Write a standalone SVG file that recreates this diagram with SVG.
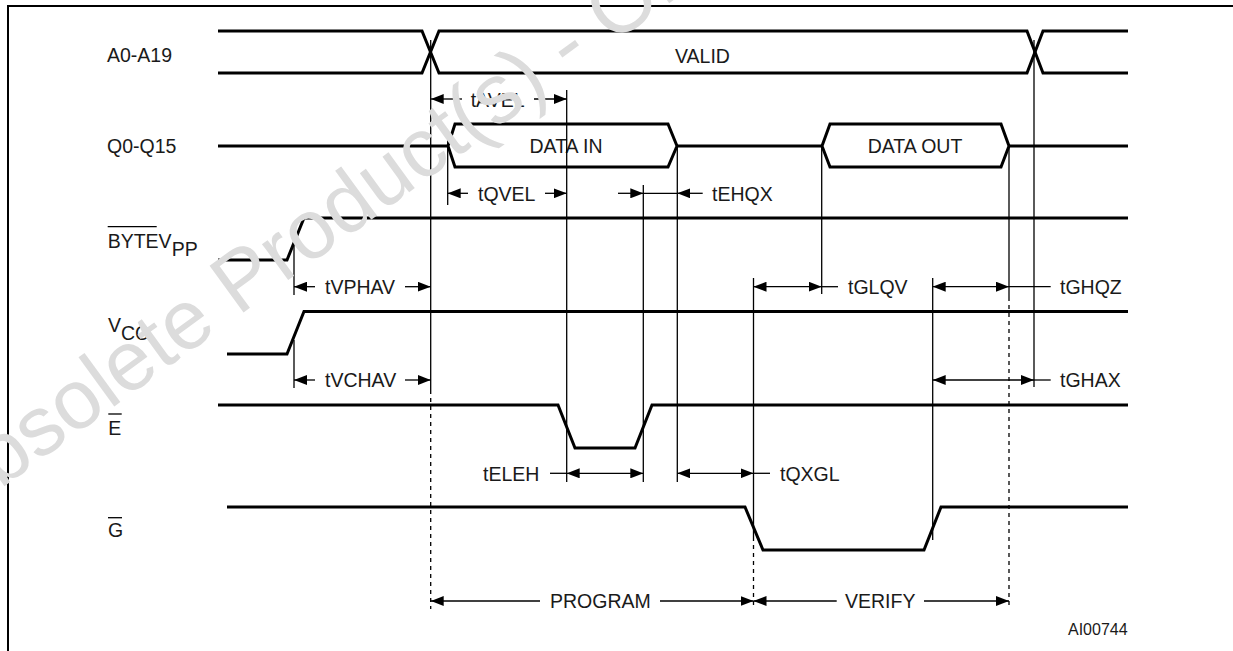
<svg xmlns="http://www.w3.org/2000/svg" width="1233" height="651" viewBox="0 0 1233 651">
<style>
.sig{fill:none;stroke:#000;stroke-width:3;stroke-linejoin:miter}
.thin{fill:none;stroke:#000;stroke-width:1.3}
.dash{fill:none;stroke:#000;stroke-width:1.3;stroke-dasharray:4 4}
.arr{fill:none;stroke:#000;stroke-width:1.3;marker-end:url(#ah)}
.arr2{fill:none;stroke:#000;stroke-width:1.3;marker-end:url(#ah);marker-start:url(#ah)}
text{font-family:"Liberation Sans",Arial,sans-serif;font-size:19.5px;fill:#1a1a1a}
.mid{text-anchor:middle}
.wm{font-size:84px;fill:#dcdcdc}
</style>
<defs>
<marker id="ah" viewBox="0 0 13 10" refX="13" refY="5" markerWidth="13" markerHeight="10" markerUnits="userSpaceOnUse" orient="auto-start-reverse">
<path d="M0,0 L13,5 L0,10 Z" fill="#000"/>
</marker>
</defs>
<rect width="1233" height="651" fill="#fff"/>
<path d="M8,651 V6 H1233" fill="none" stroke="#000" stroke-width="2"/>

<g id="sig-a">
<text x="107" y="62">A0-A19</text>
<path class="sig" d="M218,31 H422 L439,73 H1027 L1043,31 H1128"/>
<path class="sig" d="M218,73 H422 L439,31 H1027 L1043,73 H1128"/>
<text class="mid" x="702.5" y="63">VALID</text>
</g>

<g id="sig-q">
<text x="107" y="153">Q0-Q15</text>
<path class="sig" d="M218,146 H448"/>
<path class="sig" d="M448,146 L455,124 H668 L677,146 L668,167 H455 Z"/>
<path class="sig" d="M677,146 H822"/>
<path class="sig" d="M822,146 L830,124 H1001 L1009,146 L1001,167 H830 Z"/>
<path class="sig" d="M1009,146 H1128"/>
<text class="mid" x="566" y="153">DATA IN</text>
<text class="mid" x="915" y="153">DATA OUT</text>
</g>

<g id="sig-byte">
<text x="107.7" y="248">BYTEV<tspan dy="8">PP</tspan></text>
<path class="thin" d="M107.7,226.7 H156.7"/>
<path class="sig" d="M218,260 H287 L304,218 H1128"/>
</g>

<g id="sig-vcc">
<text x="108" y="331.7">V<tspan dy="8.3">CC</tspan></text>
<path class="sig" d="M227,354 H287 L304,311.5 H1128"/>
</g>

<g id="sig-e">
<text x="108.3" y="435">E</text>
<path class="thin" d="M108.3,414 H121.7"/>
<path class="sig" d="M218,405 H558 L575,448 H635 L652,405 H1128"/>
</g>

<g id="sig-g">
<text x="108" y="537.3">G</text>
<path class="thin" d="M108,517.7 H122"/>
<path class="sig" d="M227,507 H745 L763,550 H924 L941,507 H1128"/>
</g>

<g id="connectors">
<path class="thin" d="M430.7,40 V390"/>
<path class="dash" d="M430.7,390 V609"/>
<path class="thin" d="M447.7,133 V205"/>
<path class="thin" d="M566.7,90 V482"/>
<path class="thin" d="M643.3,185 V482"/>
<path class="thin" d="M677.3,146 V482"/>
<path class="thin" d="M753.5,278 V537"/>
<path class="dash" d="M753.5,537 V609"/>
<path class="thin" d="M821.7,146 V294"/>
<path class="thin" d="M932.7,278 V540"/>
<path class="thin" d="M1009,146 V297"/>
<path class="dash" d="M1009,297 V609"/>
<path class="thin" d="M1034,40 V387"/>
<path class="thin" d="M294,226.7 V295"/>
<path class="thin" d="M294,340 V388"/>

<path class="arr" d="M462,99 H430.7"/>
<text x="470.7" y="106.5">tAVEL</text>
<path class="arr" d="M534,99 H566.7"/>

<path class="arr" d="M468,193.3 H447.7"/>
<text x="478" y="200.5">tQVEL</text>
<path class="arr" d="M545,193.3 H566.7"/>

<path class="arr" d="M618,193.3 H643.3"/>
<path class="thin" d="M643.3,193.3 H677.3"/>
<path class="arr" d="M702.7,193.3 H677.3"/>
<text x="712" y="200.5">tEHQX</text>

<path class="arr" d="M315,286.7 H294"/>
<text x="325" y="293.7">tVPHAV</text>
<path class="arr" d="M405,286.7 H430.7"/>

<path class="arr" d="M315,380 H294"/>
<text x="325" y="387.2">tVCHAV</text>
<path class="arr" d="M405,380 H430.7"/>

<path class="arr2" d="M753.5,286.7 H821.7"/>
<path class="thin" d="M821.7,286.7 H838"/>
<text x="848" y="293.9">tGLQV</text>

<path class="arr2" d="M932.7,286.7 H1009"/>
<path class="thin" d="M1009,286.7 H1050.7"/>
<text x="1060" y="293.9">tGHQZ</text>

<path class="arr2" d="M932.7,380 H1034"/>
<path class="thin" d="M1034,380 H1050.7"/>
<text x="1060" y="387.2">tGHAX</text>

<text x="483" y="480.5">tELEH</text>
<path class="thin" d="M550,473.3 H566.7"/>
<path class="arr2" d="M566.7,473.3 H643.3"/>

<path class="arr2" d="M677.3,473.3 H753.5"/>
<path class="thin" d="M753.5,473.3 H770"/>
<text x="780" y="480.5">tQXGL</text>

<path class="arr" d="M540,601 H430.7"/>
<text x="550" y="608.2">PROGRAM</text>
<path class="arr" d="M660,601 H753.5"/>
<path class="arr" d="M836.7,601 H753.5"/>
<text x="845" y="608.2">VERIFY</text>
<path class="arr" d="M924,601 H1009"/>
</g>

<text x="1068" y="635" style="font-size:16px">AI00744</text>

<text class="wm" transform="translate(-52.8,527.8) rotate(-36)">Obsolete Product(s) - Obsolete Product(s)</text>
</svg>
